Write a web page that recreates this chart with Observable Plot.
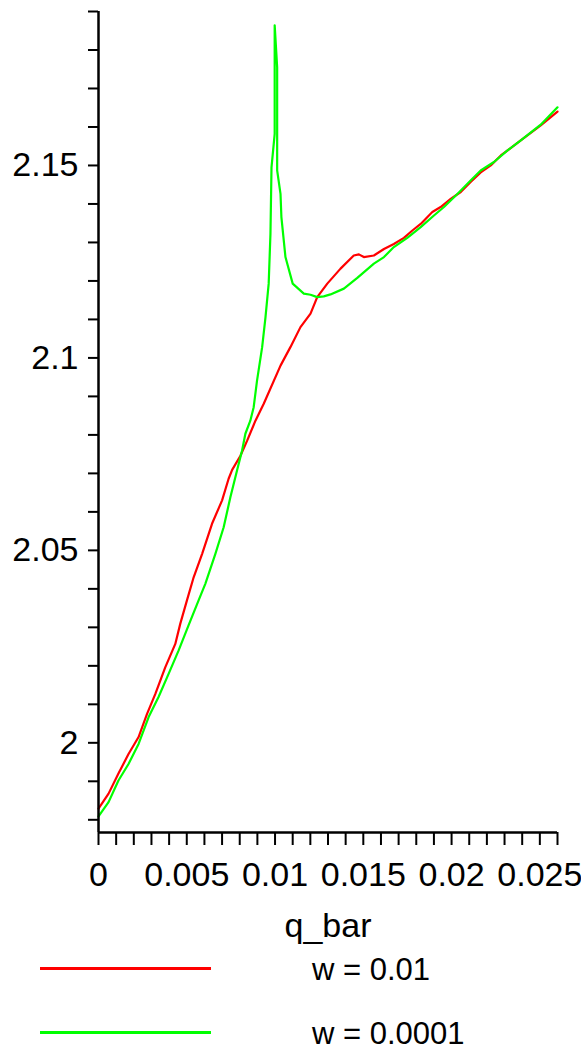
<!DOCTYPE html>
<html>
<head>
<meta charset="utf-8">
<script src="https://cdn.jsdelivr.net/npm/d3@7"></script>
<script src="https://cdn.jsdelivr.net/npm/@observablehq/plot@0.6"></script>
<style>
  html, body { margin: 0; padding: 0; background: #fff; }
  body { width: 581px; font-family: "Liberation Sans", Arial, sans-serif; }
  #legend { position: relative; width: 581px; height: 108px; }
  .sw { position: absolute; left: 40px; width: 171px; height: 3px; }
  .lt { position: absolute; left: 312px; font-size: 31px; line-height: 31px; color: #000; white-space: nowrap; }
</style>
</head>
<body>
<div id="chart"></div>
<div id="legend"></div>
<script>
// ---- data ----
const seriesNames = ["w = 0.01", "w = 0.0001"];
const seriesColors = ["#ff0000", "#00ff00"];

const qRed = [0, 0.00057, 0.00113, 0.00170, 0.00227, 0.00275, 0.00322, 0.00378, 0.00435, 0.00463,
  0.00501, 0.00539, 0.00587, 0.00643, 0.00700, 0.00737, 0.00757, 0.00804, 0.00842, 0.00889,
  0.00936, 0.01031, 0.01087, 0.01144, 0.01201, 0.01239, 0.01296, 0.01371, 0.01446, 0.01475,
  0.01503, 0.01560, 0.01617, 0.01673, 0.01730, 0.01778, 0.01825, 0.01891, 0.01938, 0.01995,
  0.02052, 0.02108, 0.02165, 0.02222, 0.02279, 0.02392, 0.02505, 0.02600];
const yRed = [1.9829, 1.9868, 1.9920, 1.9971, 2.0015, 2.0075, 2.0127, 2.0196, 2.0257, 2.0309,
  2.0370, 2.0430, 2.0491, 2.0569, 2.0630, 2.0686, 2.0709, 2.0746, 2.0785, 2.0837,
  2.0881, 2.0980, 2.1028, 2.1080, 2.1115, 2.1158, 2.1193, 2.1232, 2.1266, 2.1269,
  2.1262, 2.1266, 2.1283, 2.1296, 2.1312, 2.1331, 2.1348, 2.1379, 2.1392, 2.1413,
  2.1431, 2.1457, 2.1482, 2.1500, 2.1526, 2.1565, 2.1604, 2.1640];

const qGreen = [0, 0.00057, 0.00113, 0.00170, 0.00227, 0.00284, 0.00340, 0.00397, 0.00454, 0.00510,
  0.00567, 0.00605, 0.00662, 0.00709, 0.00747, 0.00785, 0.00813, 0.00832, 0.00860, 0.00879,
  0.00898, 0.00927, 0.00946, 0.00964, 0.00974, 0.00980, 0.00998, 0.00998,
  0.01012, 0.01012, 0.01031, 0.01036, 0.01059, 0.01100, 0.01163, 0.01201, 0.01239, 0.01276,
  0.01314, 0.01390, 0.01466, 0.01560, 0.01617, 0.01673, 0.01749, 0.01825, 0.01900, 0.01957,
  0.02033, 0.02108, 0.02165, 0.02240, 0.02317, 0.02392, 0.02505, 0.02600];
const yGreen = [1.9809, 1.9846, 1.9902, 1.9945, 1.9997, 2.0067, 2.0119, 2.0179, 2.0240, 2.0305,
  2.0370, 2.0413, 2.0491, 2.0560, 2.0638, 2.0708, 2.0759, 2.0803, 2.0837, 2.0872,
  2.0941, 2.1028, 2.1106, 2.1193, 2.1322, 2.1495, 2.1582, 2.1864,
  2.1755, 2.1487, 2.1426, 2.1366, 2.1262, 2.1193, 2.1167, 2.1164, 2.1158, 2.1160,
  2.1165, 2.1180, 2.1208, 2.1245, 2.1262, 2.1288, 2.1312, 2.1340, 2.1370, 2.1392,
  2.1426, 2.1461, 2.1487, 2.1509, 2.1539, 2.1565, 2.1606, 2.1651];

const xTickLabels = [0, 0.005, 0.01, 0.015, 0.02, 0.025];
const yTickLabels = [2, 2.05, 2.1, 2.15];
const xMinorTicks = d3.range(0, 27).map(i => i / 1000);   // every 0.001
const yMinorTicks = d3.range(198, 220).map(i => i / 100); // every 0.01
const xDomain = [0, 0.026];
const yDomain = [1.9767, 2.19];
const xLabel = "q_bar";

// ---- build ----
const red = qRed.map((q, i) => ({q, y: yRed[i]}));
const green = qGreen.map((q, i) => ({q, y: yGreen[i]}));
const isLabel = (list, d) => list.some(v => Math.abs(v - d) < 1e-9);

const chart = Plot.plot({
  width: 581,
  height: 945,
  marginLeft: 98,
  marginRight: 24,
  marginTop: 11,
  marginBottom: 113,
  style: {fontFamily: "'Liberation Sans', Arial, sans-serif", fontSize: "34px", color: "#000", background: "#fff"},
  x: {domain: xDomain},
  y: {domain: yDomain},
  marks: [
    Plot.line(red, {x: "q", y: "y", stroke: seriesColors[0], strokeWidth: 2.2}),
    Plot.line(green, {x: "q", y: "y", stroke: seriesColors[1], strokeWidth: 2.2}),
    Plot.ruleX([xDomain[0]], {stroke: "#000", strokeWidth: 2.5}),
    Plot.ruleY([yDomain[0]], {stroke: "#000", strokeWidth: 2.5}),
    Plot.axisY({
      ticks: yMinorTicks, tickSize: 10, tickPadding: 10, strokeWidth: 2,
      tickFormat: d => isLabel(yTickLabels, d) ? String(+d.toFixed(2)) : "",
      label: null
    }),
    Plot.axisX({
      ticks: xMinorTicks, tickSize: 13, tickPadding: 16, strokeWidth: 2,
      tickFormat: d => isLabel(xTickLabels, d) ? String(+d.toFixed(3)) : "",
      label: xLabel, labelAnchor: "center", labelArrow: "none", labelOffset: 104
    })
  ]
});
document.getElementById("chart").appendChild(chart);

// ---- legend below the SVG ----
const legend = d3.select("#legend");
seriesNames.forEach((name, i) => {
  legend.append("div").attr("class", "sw")
    .style("top", (22 + i * 64) + "px")
    .style("background", seriesColors[i]);
  legend.append("div").attr("class", "lt")
    .style("top", (9 + i * 64) + "px")
    .text(name);
});
</script>
</body>
</html>
